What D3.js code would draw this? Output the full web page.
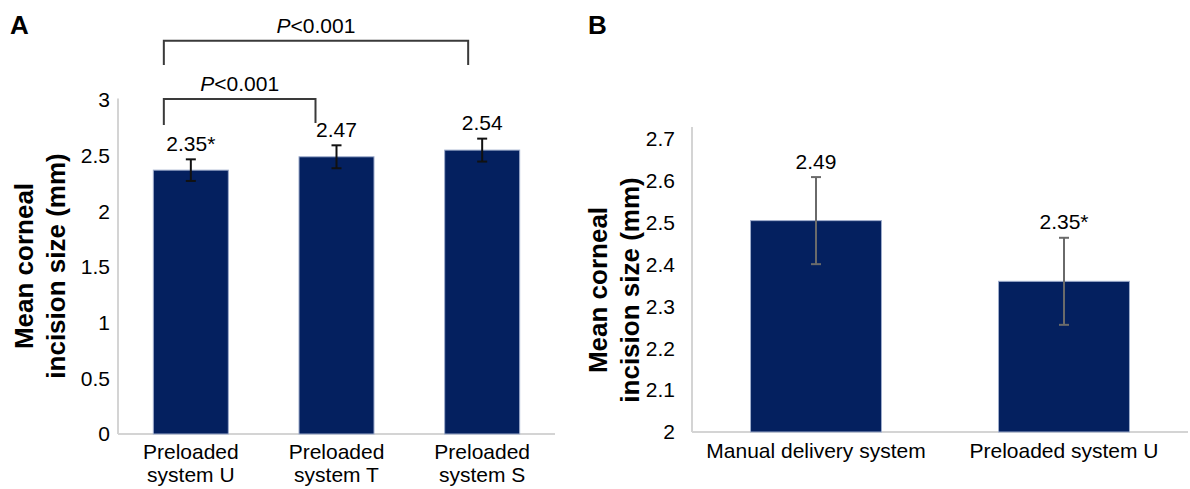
<!DOCTYPE html>
<html>
<head>
<meta charset="utf-8">
<script src="https://cdn.jsdelivr.net/npm/d3@7"></script>
<style>
  html, body { margin: 0; padding: 0; background: #fff; }
  svg { display: block; }
  text { font-family: "Liberation Sans", Arial, Helvetica, sans-serif; fill: #000; }
</style>
</head>
<body>
<svg id="chart" width="1190" height="489"></svg>
<script>
// ---------- Panel A data ----------
const categoriesA = ["Preloaded system U", "Preloaded system T", "Preloaded system S"];
const categoryLinesA = [["Preloaded", "system U"], ["Preloaded", "system T"], ["Preloaded", "system S"]];
const valuesA = [2.37, 2.49, 2.55];
const errorsA = [0.097, 0.103, 0.103];
const valueLabelsA = ["2.35*", "2.47", "2.54"];
const ticksA = [0, 0.5, 1, 1.5, 2, 2.5, 3];
const tickLabelsA = ["0", "0.5", "1", "1.5", "2", "2.5", "3"];
const bracketsA = [
  { from: 0, to: 1, p: "<0.001" },
  { from: 0, to: 2, p: "<0.001" }
];

// ---------- Panel B data ----------
const categoriesB = ["Manual delivery system", "Preloaded system U"];
const valuesB = [2.505, 2.36];
const errorsB = [0.104, 0.104];
const valueLabelsB = ["2.49", "2.35*"];
const ticksB = [2, 2.1, 2.2, 2.3, 2.4, 2.5, 2.6, 2.7];
const tickLabelsB = ["2", "2.1", "2.2", "2.3", "2.4", "2.5", "2.6", "2.7"];

const yTitleLines = ["Mean corneal", "incision size (mm)"];

const BAR_FILL = "#04205f";
const BAR_STROKE = "#9fadcc";
const AXIS_COLOR = "#d4d4d4";
const FS = 21;

const svg = d3.select("#chart");

// ================= Panel A =================
const xA = d3.scaleBand().domain(categoriesA).range([118, 555]).paddingInner(0.485).paddingOuter(0.2425);
const yA = d3.scaleLinear().domain([0, 3]).range([434, 100]);
const gA = svg.append("g");

// axis lines
gA.append("line").attr("x1", 118).attr("x2", 118).attr("y1", yA(3) - 1.5).attr("y2", yA(0))
  .attr("stroke", AXIS_COLOR).attr("stroke-width", 2);
gA.append("line").attr("x1", 118).attr("x2", 555).attr("y1", yA(0)).attr("y2", yA(0))
  .attr("stroke", AXIS_COLOR).attr("stroke-width", 2);

// y tick labels
const yAxisA = d3.axisLeft(yA).tickValues(ticksA).tickFormat((d, i) => tickLabelsA[i]).tickSize(0).tickPadding(8);
const axA = gA.append("g").attr("transform", "translate(118,0)").call(yAxisA);
axA.select(".domain").remove();
axA.selectAll("text").attr("font-size", FS).attr("font-family", "Liberation Sans, Arial, sans-serif").attr("fill", "#000");

// bars
gA.selectAll("rect.bar").data(categoriesA).join("rect")
  .attr("class", "bar")
  .attr("x", d => xA(d)).attr("width", xA.bandwidth())
  .attr("y", (d, i) => yA(valuesA[i])).attr("height", (d, i) => yA(0) - yA(valuesA[i]))
  .attr("fill", BAR_FILL).attr("stroke", BAR_STROKE).attr("stroke-width", 1);

// error bars
const errA = gA.append("g").attr("stroke", "#111").attr("stroke-width", 2);
categoriesA.forEach((c, i) => {
  const cx = xA(c) + xA.bandwidth() / 2;
  const yt = yA(valuesA[i] + errorsA[i]), yb = yA(valuesA[i] - errorsA[i]);
  errA.append("line").attr("x1", cx).attr("x2", cx).attr("y1", yt).attr("y2", yb);
  errA.append("line").attr("x1", cx - 5).attr("x2", cx + 5).attr("y1", yt).attr("y2", yt);
  errA.append("line").attr("x1", cx - 5).attr("x2", cx + 5).attr("y1", yb).attr("y2", yb);
});

// value labels
gA.selectAll("text.val").data(categoriesA).join("text")
  .attr("class", "val")
  .attr("x", d => xA(d) + xA.bandwidth() / 2)
  .attr("y", (d, i) => yA(valuesA[i] + errorsA[i]) - 8.5)
  .attr("text-anchor", "middle").attr("font-size", FS)
  .text((d, i) => valueLabelsA[i]);

// category labels
categoriesA.forEach((c, i) => {
  const cx = xA(c) + xA.bandwidth() / 2;
  const t = gA.append("text").attr("text-anchor", "middle").attr("font-size", FS);
  categoryLinesA[i].forEach((ln, j) => {
    t.append("tspan").attr("x", cx).attr("y", 458.5 + j * 23).text(ln);
  });
});

// significance brackets
const bracketGeom = [
  { y: yA(3) - 1, legL: 125, legR: 123, offL: -27, offR: -21 },
  { y: 40.7, legL: 65, legR: 65, offL: -27, offR: -14 }
];
bracketsA.forEach((b, k) => {
  const g = bracketGeom[k];
  const xl = xA(categoriesA[b.from]) + xA.bandwidth() / 2 + g.offL;
  const xr = xA(categoriesA[b.to]) + xA.bandwidth() / 2 + g.offR;
  gA.append("path")
    .attr("d", `M${xl},${g.legL}V${g.y}H${xr}V${g.legR}`)
    .attr("fill", "none").attr("stroke", "#3a3a3a").attr("stroke-width", 2);
  const t = gA.append("text").attr("x", (xl + xr) / 2).attr("y", g.y - 8)
    .attr("text-anchor", "middle").attr("font-size", FS);
  t.append("tspan").attr("font-style", "italic").text("P");
  t.append("tspan").text(b.p);
});

// y title
yTitleLines.forEach((ln, j) => {
  gA.append("text").attr("transform", `translate(${33 + j * 32},266) rotate(-90)`)
    .attr("text-anchor", "middle").attr("font-size", 26).attr("font-weight", "bold").text(ln);
});

// panel letter
svg.append("text").attr("x", 10).attr("y", 33.5).attr("font-size", 26).attr("font-weight", "bold").text("A");

// ================= Panel B =================
const xB = d3.scaleBand().domain(categoriesB).range([692, 1188]).paddingInner(0.472).paddingOuter(0.236);
const yB = d3.scaleLinear().domain([2, 2.7]).range([432, 139]);
const gB = svg.append("g");

gB.append("line").attr("x1", 692).attr("x2", 692).attr("y1", 127).attr("y2", yB(2))
  .attr("stroke", AXIS_COLOR).attr("stroke-width", 2);
gB.append("line").attr("x1", 692).attr("x2", 1188).attr("y1", yB(2)).attr("y2", yB(2))
  .attr("stroke", AXIS_COLOR).attr("stroke-width", 2);

const yAxisB = d3.axisLeft(yB).tickValues(ticksB).tickFormat((d, i) => tickLabelsB[i]).tickSize(0).tickPadding(17);
const axB = gB.append("g").attr("transform", "translate(692,0)").call(yAxisB);
axB.select(".domain").remove();
axB.selectAll("text").attr("font-size", FS).attr("font-family", "Liberation Sans, Arial, sans-serif").attr("fill", "#000");

gB.selectAll("rect.bar").data(categoriesB).join("rect")
  .attr("class", "bar")
  .attr("x", d => xB(d)).attr("width", xB.bandwidth())
  .attr("y", (d, i) => yB(valuesB[i])).attr("height", (d, i) => yB(2) - yB(valuesB[i]))
  .attr("fill", BAR_FILL).attr("stroke", BAR_STROKE).attr("stroke-width", 1);

const errB = gB.append("g").attr("stroke", "#6a6a6a").attr("stroke-width", 2);
categoriesB.forEach((c, i) => {
  const cx = xB(c) + xB.bandwidth() / 2;
  const yt = yB(valuesB[i] + errorsB[i]), yb = yB(valuesB[i] - errorsB[i]);
  errB.append("line").attr("x1", cx).attr("x2", cx).attr("y1", yt).attr("y2", yb);
  errB.append("line").attr("x1", cx - 5).attr("x2", cx + 5).attr("y1", yt).attr("y2", yt);
  errB.append("line").attr("x1", cx - 5).attr("x2", cx + 5).attr("y1", yb).attr("y2", yb);
});

gB.selectAll("text.val").data(categoriesB).join("text")
  .attr("class", "val")
  .attr("x", d => xB(d) + xB.bandwidth() / 2)
  .attr("y", (d, i) => yB(valuesB[i] + errorsB[i]) - 8.5)
  .attr("text-anchor", "middle").attr("font-size", FS)
  .text((d, i) => valueLabelsB[i]);

gB.selectAll("text.cat").data(categoriesB).join("text")
  .attr("class", "cat")
  .attr("x", d => xB(d) + xB.bandwidth() / 2).attr("y", 458)
  .attr("text-anchor", "middle").attr("font-size", FS)
  .text(d => d);

yTitleLines.forEach((ln, j) => {
  gB.append("text").attr("transform", `translate(${607 + j * 32},290) rotate(-90)`)
    .attr("text-anchor", "middle").attr("font-size", 26).attr("font-weight", "bold").text(ln);
});

svg.append("text").attr("x", 588).attr("y", 33.5).attr("font-size", 26).attr("font-weight", "bold").text("B");
</script>
</body>
</html>
